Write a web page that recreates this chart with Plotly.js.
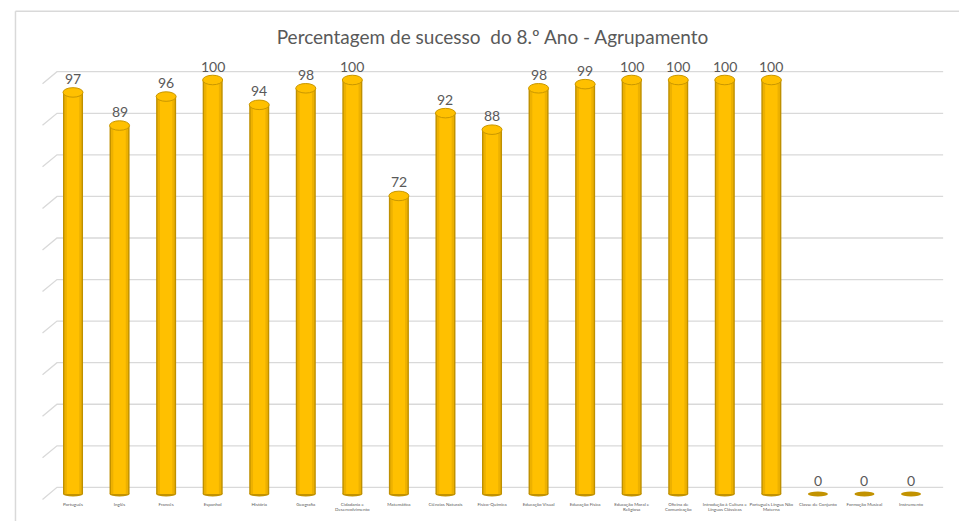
<!DOCTYPE html>
<html>
<head>
<meta charset="utf-8">
<script src="https://cdn.plot.ly/plotly-3.0.1.min.js"></script>
<style>html,body{margin:0;padding:0;background:#fff;}#chart{width:959px;height:521px;}</style>
</head>
<body>
<div id="chart"></div>
<script>
const categories = [
  "Português", "Inglês", "Francês", "Espanhol", "História", "Geografia",
  "Cidadania e<br>Desenvolvimento", "Matemática", "Ciências Naturais", "Físico-Química",
  "Educação Visual", "Educação Física", "Educação Moral e<br>Religiosa",
  "Oficina de<br>Comunicação", "Introdução à Cultura e<br>Línguas Clássicas",
  "Português Língua Não<br>Materna", "Classe de Conjunto", "Formação Musical", "Instrumento"
];
const values = [97, 89, 96, 100, 94, 98, 100, 72, 92, 88, 98, 99, 100, 100, 100, 100, 0, 0, 0];
const gridValues = [0, 10, 20, 30, 40, 50, 60, 70, 80, 90, 100];

const idx = categories.map((_, i) => i);
const BW = 0.43;

const traces = [
  {type: 'bar', x: idx, y: values, width: BW, marker: {color: '#BF9000', line: {width: 0}}, hoverinfo: 'none'},
  {type: 'bar', x: idx, y: values, width: BW * 0.86, marker: {color: '#EDB100', line: {width: 0}}, hoverinfo: 'none'},
  {type: 'bar', x: idx, y: values, width: BW * 0.62, marker: {color: '#FFC000', line: {width: 0}}, hoverinfo: 'none'}
];

const shapes = [];
// back-wall gridlines with perspective stubs
gridValues.forEach(g => {
  const gy = g + 1.6 + g * 0.004;
  shapes.push({type: 'path', xref: 'x', yref: 'y', layer: 'below',
    path: `M -0.655 ${gy - 2.9} L -0.344 ${gy} L 18.69 ${gy}`,
    line: {color: '#D9D9D9', width: 1.3}});
});
// cylinder bottoms
idx.forEach(i => {
  shapes.push({type: 'circle', xref: 'x', yref: 'y', layer: 'below',
    x0: i - BW / 2, x1: i + BW / 2, y0: -0.6, y1: 0.6,
    fillcolor: '#C29200', line: {width: 0}});
});
// cylinder tops
idx.forEach(i => {
  if (values[i] > 0) {
    shapes.push({type: 'circle', xref: 'x', yref: 'y', layer: 'above',
      x0: i - BW / 2, x1: i + BW / 2, y0: values[i] - 1.15, y1: values[i] + 1.15,
      fillcolor: '#FFC000', line: {color: '#C99700', width: 1}});
  }
});
// chart frame
shapes.push({type: 'line', xref: 'paper', yref: 'paper', x0: -0.0271, x1: 1.03, y0: 1.111, y1: 1.111,
  line: {color: '#D9D9D9', width: 1.5}});
shapes.push({type: 'line', xref: 'paper', yref: 'paper', x0: -0.0271, x1: -0.0271, y0: 1.111, y1: -0.1,
  line: {color: '#D9D9D9', width: 1.5}});

// value labels
const annotations = idx.map(i => ({
  x: i, y: values[i], xref: 'x', yref: 'y', text: String(values[i]),
  showarrow: false, yshift: 14, yanchor: 'middle',
  font: {family: 'Lato, Open Sans, sans-serif', size: 14, color: '#595959'}
}));

const layout = {
  width: 959, height: 521,
  margin: {l: 40, r: 14, t: 60, b: 21},
  paper_bgcolor: '#ffffff', plot_bgcolor: 'rgba(0,0,0,0)',
  barmode: 'overlay', showlegend: false,
  title: {text: 'Percentagem de sucesso  do 8.º Ano - Agrupamento', x: 0.5, xref: 'paper',
    y: 0.929, yanchor: 'middle', yref: 'container',
    font: {family: 'Lato, Open Sans, sans-serif', size: 19, color: '#595959'}},
  xaxis: {range: [-0.709, 18.73], tickvals: idx, ticktext: categories, tickangle: 0,
    showgrid: false, zeroline: false, showline: false, ticks: '',
    tickfont: {family: 'Lato, sans-serif', size: 4.5, color: '#595959'}},
  yaxis: {range: [-1.45, 104.83], showgrid: false, zeroline: false, showline: false,
    showticklabels: false, ticks: ''},
  shapes: shapes,
  annotations: annotations
};

Plotly.newPlot('chart', traces, layout, {displayModeBar: false, staticPlot: true});
</script>
</body>
</html>
